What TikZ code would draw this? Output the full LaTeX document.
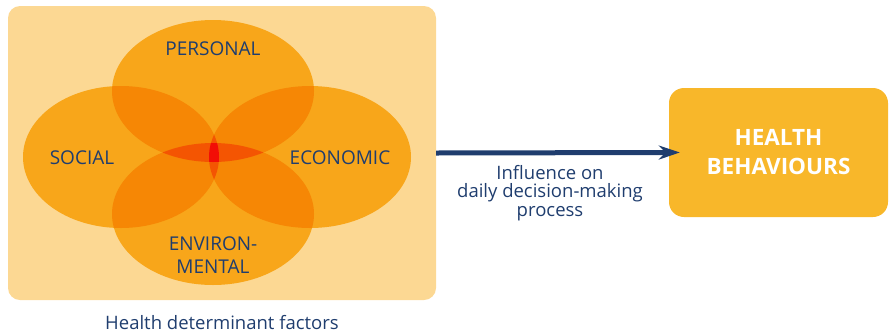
\documentclass[tikz,border=0pt]{standalone}
\usepackage{fontspec}
\setmainfont{Open Sans}
\usetikzlibrary{arrows.meta}

\definecolor{navy}{RGB}{31,61,110}
\definecolor{cream}{RGB}{252,216,147}
\definecolor{one}{RGB}{248,166,26}
\definecolor{two}{RGB}{246,135,5}
\definecolor{three}{RGB}{244,85,2}
\definecolor{four}{RGB}{242,14,6}
\definecolor{goal}{RGB}{248,183,42}

% the four overlapping determinant ovals
\newcommand{\ovPer}{(213,91) ellipse [x radius=101pt, y radius=71pt]}
\newcommand{\ovSoc}{(121,157) ellipse [x radius=98pt, y radius=71pt]}
\newcommand{\ovEco}{(310,157) ellipse [x radius=101pt, y radius=71pt]}
\newcommand{\ovEnv}{(213,214) ellipse [x radius=101pt, y radius=71pt]}

\tikzset{
  panel/.style={fill=cream, rounded corners=12pt, minimum width=428pt,
    minimum height=294pt, inner sep=0pt},
  goalbox/.style={fill=goal, rounded corners=15pt, minimum width=219pt,
    minimum height=129pt, inner sep=0pt, text=white, align=center,
    font=\bfseries\fontsize{22.5}{29}\selectfont},
  factor/.style={text=navy, inner sep=0pt, align=center,
    font=\fontsize{19}{23}\selectfont},
  caption/.style={text=navy, inner sep=0pt, align=center,
    font=\fontsize{18.5}{18.5}\selectfont},
  flow/.style={draw=navy, line width=5pt,
    -{Stealth[length=21pt, width=14pt, inset=7pt]}, shorten >=-11pt},
}

\begin{document}
\begin{tikzpicture}[x=1pt, y=-1pt]
\useasboundingbox (0,0) rectangle (889,333);

\node[panel] (factors) at (222,153) {};

% single coverage
\fill[one] \ovPer; \fill[one] \ovSoc; \fill[one] \ovEco; \fill[one] \ovEnv;
% pairwise overlaps
\begin{scope}\clip \ovPer; \fill[two] \ovSoc; \fill[two] \ovEco; \fill[two] \ovEnv; \end{scope}
\begin{scope}\clip \ovSoc; \fill[two] \ovEco; \fill[two] \ovEnv; \end{scope}
\begin{scope}\clip \ovEco; \fill[two] \ovEnv; \end{scope}
% threefold overlaps
\begin{scope}\clip \ovPer; \clip \ovSoc; \fill[three] \ovEco; \fill[three] \ovEnv; \end{scope}
\begin{scope}\clip \ovPer; \clip \ovEco; \fill[three] \ovEnv; \end{scope}
\begin{scope}\clip \ovSoc; \clip \ovEco; \fill[three] \ovEnv; \end{scope}
% common core
\begin{scope}\clip \ovPer; \clip \ovSoc; \clip \ovEco; \fill[four] \ovEnv; \end{scope}

\node[factor, anchor=base] (personal) at (213,55) {PERSONAL};
\node[factor, anchor=base] (social) at (82,164) {SOCIAL};
\node[factor, anchor=base] (economic) at (340,164) {ECONOMIC};
\node[factor] (environmental) at (213,255) {ENVIRON-\\MENTAL};

\node[caption, anchor=base] (title) at (222,329) {Health determinant factors};

\node[goalbox] (health) at (778.5,152.5) {HEALTH\\BEHAVIOURS};

\draw[flow] (factors.east) -- (health.west);
\node[caption] (influence) at (550,193) {Influence on\\daily decision-making\\process};
\end{tikzpicture}
\end{document}
